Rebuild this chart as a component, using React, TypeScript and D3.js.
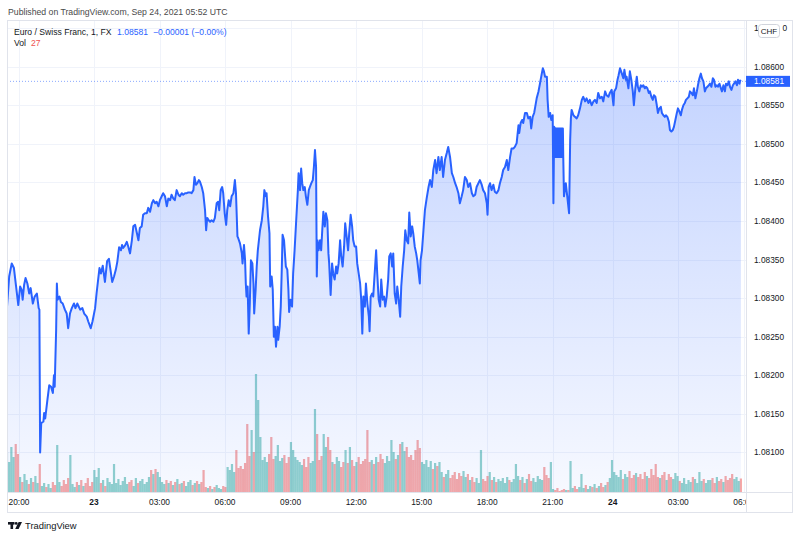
import React from 'react';
import * as d3 from 'd3';

const W = 800;
const H = 538;

// time axis: bar index (1-minute bars) and labels
const timeTickBars = [33, 239, 419, 599, 779, 959, 1139, 1319, 1499, 1664, 1844, 2024];
const timeTickLabels = ['20:00', '23', '03:00', '06:00', '09:00', '12:00', '15:00', '18:00', '21:00', '24', '03:00', '06:00'];
const boldTickLabels = ['23', '24'];

const priceTicks = [1.081, 1.0815, 1.082, 1.0825, 1.083, 1.0835, 1.084, 1.0845, 1.085, 1.0855, 1.086];
// top tick, mostly hidden behind the currency badge: only its first and last digits show
const hiddenTopTick = 1.0865;

const lastPrice = 1.08581;
const lastChange = '−0.00001 (−0.00%)';
const lastVolume = 27;

// [bar index, close]
const sessionEvening: [number, number][] = [
  [0, 1.08289], [6, 1.08328], [13, 1.08345], [19, 1.08339], [25, 1.08315], [31, 1.08291], [36, 1.08315], [40, 1.08311],
  [43, 1.08298], [47, 1.08317], [51, 1.08326], [56, 1.08319], [61, 1.08306], [65, 1.08313], [71, 1.08293], [76, 1.08302],
  [82, 1.08306], [87, 1.08287], [89, 1.08285], [91, 1.081], [94, 1.08138], [100, 1.0814], [102, 1.08151], [105, 1.08144],
  [111, 1.08168], [116, 1.08187], [121, 1.08185], [126, 1.08177], [129, 1.082], [131, 1.08185], [135, 1.08259], [137, 1.08319],
  [139, 1.08298], [144, 1.08302], [148, 1.08295], [153, 1.08293], [159, 1.08285], [164, 1.0828], [168, 1.08261], [173, 1.0828],
  [178, 1.08287], [184, 1.08293], [188, 1.08287], [193, 1.08293], [201, 1.08285], [207, 1.08287], [212, 1.0828], [219, 1.08276],
  [223, 1.0827], [230, 1.08261], [235, 1.0827], [242, 1.08287], [246, 1.08306], [254, 1.08339], [258, 1.08332], [263, 1.08342],
  [269, 1.08321], [275, 1.08348], [280, 1.08351], [289, 1.08321], [294, 1.08328], [299, 1.08337], [303, 1.08347], [308, 1.08366],
  [313, 1.08362], [316, 1.08369], [319, 1.08365], [324, 1.08368], [329, 1.08373], [333, 1.08367], [338, 1.08358], [343, 1.08375],
  [347, 1.08393], [352, 1.08395], [356, 1.08386], [361, 1.08375], [365, 1.08391], [370, 1.08393], [374, 1.08408], [379, 1.0841],
  [384, 1.0841], [388, 1.08417], [393, 1.08412], [398, 1.08423], [402, 1.08427], [407, 1.08423], [411, 1.08425], [416, 1.08419],
  [420, 1.08427], [425, 1.08432], [429, 1.08436], [434, 1.08432], [439, 1.08419], [443, 1.08429], [448, 1.08427], [452, 1.08434],
  [457, 1.08429], [461, 1.08427], [466, 1.0844], [471, 1.08434], [475, 1.08432], [480, 1.08436], [484, 1.08434], [489, 1.08436],
  [494, 1.08436], [498, 1.08437], [503, 1.08437], [507, 1.08436], [512, 1.0844], [515, 1.08457], [519, 1.08447], [523, 1.08449],
  [527, 1.08453], [530, 1.08451], [535, 1.08444], [539, 1.08436], [544, 1.08414], [547, 1.08388], [550, 1.08404], [554, 1.08401],
  [558, 1.08399], [562, 1.08401], [567, 1.08399], [571, 1.08404], [576, 1.08423], [580, 1.08425], [583, 1.08414], [587, 1.0844],
  [591, 1.08444], [594, 1.08436],
];

const sessionMorning: [number, number][] = [
  [598, 1.0841], [602, 1.08395], [605, 1.08414], [609, 1.08427], [613, 1.08419], [617, 1.08432], [622, 1.08436], [626, 1.08453],
  [629, 1.08436], [633, 1.0838], [635, 1.08378], [640, 1.08371], [645, 1.08358], [647, 1.08345], [651, 1.08369], [654, 1.08349],
  [656, 1.08319], [658, 1.08302], [661, 1.08315], [664, 1.08254], [667, 1.08293], [670, 1.08349], [674, 1.08345], [677, 1.08319],
  [679, 1.0828], [683, 1.08311], [686, 1.08341], [689, 1.08362], [692, 1.08375], [695, 1.08388], [700, 1.08401], [704, 1.08419],
  [707, 1.0844], [711, 1.08432], [713, 1.08436], [717, 1.08406], [721, 1.08384], [723, 1.08315], [727, 1.08328], [730, 1.08311],
  [733, 1.0825], [736, 1.08263], [739, 1.08237], [743, 1.08263], [745, 1.08246], [749, 1.08263], [752, 1.08289], [755, 1.08341],
  [757, 1.08382], [761, 1.08375], [764, 1.08354], [766, 1.08341], [770, 1.08337], [773, 1.08311], [775, 1.08282], [779, 1.08298],
  [783, 1.08289], [786, 1.08332], [790, 1.08362], [794, 1.08397], [799, 1.0844], [801, 1.08462], [805, 1.0844], [808, 1.08468],
  [811, 1.08449], [814, 1.0844], [818, 1.08444], [821, 1.08432], [825, 1.08421], [829, 1.0844], [832, 1.08444], [836, 1.08449],
  [840, 1.08453], [843, 1.0847], [846, 1.08492], [849, 1.0847], [851, 1.08328], [853, 1.08375], [856, 1.08362], [860, 1.08375],
  [863, 1.08362], [866, 1.08388], [869, 1.08412], [873, 1.08393], [876, 1.0841], [880, 1.08401], [883, 1.08358], [885, 1.08345],
  [889, 1.08304], [893, 1.08345], [896, 1.08332], [900, 1.08324], [904, 1.08341], [907, 1.08332], [911, 1.08345], [915, 1.08375],
  [918, 1.08354], [922, 1.08341], [926, 1.08367], [929, 1.08397], [933, 1.0838], [937, 1.08362], [940, 1.08384], [944, 1.08408],
  [948, 1.08393], [951, 1.08375], [955, 1.08367], [959, 1.08367], [962, 1.08345], [966, 1.08332], [970, 1.08319], [973, 1.08298],
  [976, 1.08254], [979, 1.08302], [983, 1.08289], [986, 1.08319], [990, 1.08293], [994, 1.08276], [996, 1.08257], [999, 1.08302],
  [1003, 1.08306], [1006, 1.08302], [1010, 1.08332], [1014, 1.08362], [1017, 1.08332], [1021, 1.08298], [1025, 1.08289], [1028, 1.08324],
  [1032, 1.08298], [1036, 1.08302], [1039, 1.08289], [1043, 1.08302], [1047, 1.08324], [1050, 1.08354], [1054, 1.08358], [1058, 1.08341],
  [1061, 1.08358], [1065, 1.08306], [1069, 1.08293], [1072, 1.08315], [1076, 1.08298], [1080, 1.08276], [1083, 1.08315], [1087, 1.08341],
  [1091, 1.08362], [1094, 1.08388], [1098, 1.08375], [1102, 1.08371], [1105, 1.08411], [1109, 1.0838], [1113, 1.08393], [1116, 1.08384],
  [1120, 1.08367], [1124, 1.08358], [1127, 1.08349], [1131, 1.08332], [1134, 1.08319], [1136, 1.08349],
];

const sessionAfternoon: [number, number][] = [
  [1140, 1.08362], [1144, 1.08388], [1148, 1.08414], [1153, 1.0843], [1158, 1.08444], [1162, 1.08453], [1167, 1.08444], [1171, 1.08466],
  [1176, 1.08479], [1180, 1.08462], [1185, 1.08483], [1189, 1.08466], [1194, 1.08483], [1198, 1.08457], [1203, 1.08479], [1208, 1.08488],
  [1212, 1.08496], [1217, 1.08483], [1222, 1.08462], [1226, 1.08457], [1231, 1.08449], [1235, 1.08444], [1240, 1.08436], [1244, 1.08423],
  [1249, 1.08432], [1253, 1.0844], [1258, 1.08457], [1263, 1.08453], [1267, 1.08444], [1272, 1.08449], [1277, 1.08436], [1281, 1.08432],
  [1286, 1.08434], [1290, 1.08444], [1295, 1.08449], [1299, 1.08453], [1304, 1.08447], [1308, 1.0844], [1313, 1.08436], [1318, 1.08423],
  [1320, 1.08408], [1323, 1.08444], [1327, 1.08449], [1331, 1.0844], [1336, 1.08447], [1340, 1.08438], [1345, 1.08436], [1350, 1.0844],
  [1354, 1.08449], [1359, 1.08457], [1363, 1.08466], [1368, 1.0847], [1373, 1.08479], [1377, 1.08466], [1382, 1.08483], [1386, 1.08494],
  [1391, 1.08494], [1395, 1.08496], [1400, 1.08501], [1405, 1.08524], [1407, 1.08514], [1411, 1.08527], [1415, 1.08531], [1418, 1.08527],
  [1423, 1.0854], [1428, 1.0854], [1432, 1.08533], [1437, 1.08535], [1440, 1.0852], [1444, 1.08535], [1448, 1.0854], [1451, 1.08548],
  [1455, 1.08559], [1460, 1.08568], [1464, 1.08578], [1469, 1.08591], [1472, 1.08598], [1475, 1.08594], [1478, 1.08587], [1483, 1.08587],
  [1485, 1.08557], [1488, 1.08535], [1492, 1.0854], [1495, 1.08531],
];

const sessionRollover: [number, number][] = [
  [1499, 1.08537], [1501, 1.08423], [1503, 1.08522],
  [1505, 1.0852], [1506, 1.08483], [1507, 1.0852], [1508, 1.08483], [1509, 1.0852], [1510, 1.08483], [1511, 1.0852], [1512, 1.08483],
  [1513, 1.0852], [1514, 1.08483], [1515, 1.0852], [1516, 1.08483], [1517, 1.0852], [1518, 1.08483], [1519, 1.0852], [1520, 1.08483],
  [1521, 1.0852], [1522, 1.08483], [1523, 1.0852], [1524, 1.08483], [1525, 1.0852], [1526, 1.08483], [1527, 1.0852], [1528, 1.08483],
  [1530, 1.08432], [1535, 1.08449], [1539, 1.08432], [1544, 1.0841], [1547, 1.08505], [1549, 1.08533], [1551, 1.08544], [1556, 1.08537],
  [1560, 1.08535], [1565, 1.08533], [1569, 1.08537], [1574, 1.08546], [1579, 1.08557], [1583, 1.08561], [1588, 1.08555], [1592, 1.08559],
  [1597, 1.08553], [1601, 1.08557], [1606, 1.0855], [1611, 1.08555], [1615, 1.08557], [1620, 1.08553], [1624, 1.08566], [1629, 1.08559],
  [1634, 1.08561], [1638, 1.08555], [1643, 1.08568], [1647, 1.08563], [1652, 1.08561], [1656, 1.08566], [1661, 1.0857],
];

const sessionAsia: [number, number][] = [
  [1666, 1.0855], [1668, 1.08568], [1673, 1.08572], [1677, 1.08583], [1680, 1.08589], [1684, 1.08598], [1689, 1.08591], [1693, 1.08585],
  [1696, 1.08596], [1700, 1.08583], [1702, 1.08587], [1707, 1.08572], [1711, 1.08594], [1715, 1.08583], [1719, 1.08568], [1722, 1.0855],
  [1726, 1.08572], [1730, 1.08587], [1733, 1.08574], [1737, 1.08568], [1741, 1.08576], [1744, 1.08574], [1748, 1.08576], [1752, 1.08572],
  [1755, 1.08574], [1759, 1.08572], [1763, 1.08566], [1766, 1.08568], [1770, 1.08561], [1774, 1.08557], [1777, 1.08563], [1781, 1.08561],
  [1785, 1.0855], [1788, 1.0854], [1792, 1.08546], [1796, 1.08548], [1799, 1.0854], [1803, 1.08537], [1807, 1.08535], [1810, 1.08537],
  [1814, 1.08535], [1818, 1.08529], [1821, 1.08518], [1825, 1.08516], [1829, 1.08518], [1832, 1.08522], [1836, 1.08531], [1840, 1.0854],
  [1843, 1.08546], [1847, 1.08542], [1851, 1.08537], [1854, 1.08544], [1858, 1.0855], [1862, 1.08553], [1865, 1.08557], [1869, 1.08559],
  [1873, 1.08561], [1876, 1.08568], [1880, 1.08566], [1884, 1.08563], [1887, 1.08572], [1891, 1.08559], [1895, 1.08568], [1898, 1.08576],
  [1902, 1.08585], [1906, 1.08591], [1909, 1.08585], [1913, 1.08581], [1917, 1.08568], [1920, 1.08572], [1924, 1.08574], [1928, 1.08576],
  [1931, 1.08578], [1935, 1.08574], [1939, 1.08585], [1942, 1.08583], [1946, 1.08574], [1950, 1.08576], [1953, 1.08574], [1957, 1.08578],
  [1961, 1.08572], [1964, 1.08568], [1968, 1.08576], [1972, 1.08568], [1975, 1.08578], [1979, 1.08576], [1983, 1.08581], [1986, 1.08574],
  [1990, 1.0857], [1994, 1.08576], [1997, 1.08578], [2001, 1.08581], [2005, 1.08576], [2008, 1.08583], [2012, 1.08578], [2014, 1.08582],
  [2016, 1.08581],
];

// tick volume, one value every 6 bars
const volumeStep = 6;
const volumes = [
  80, 60, 90, 70, 96, 76, 30, 20, 36, 24, 16, 28, 20, 32, 18, 56, 12, 18, 10, 16, 8, 20, 14, 94, 20, 12, 24, 16, 28, 74,
  16, 10, 20, 14, 24, 12, 18, 28, 12, 20, 44, 30, 48, 18, 24, 12, 28, 20, 16, 56, 18, 26, 14, 22, 30, 16, 20, 24, 12, 28,
  18, 22, 26, 16, 20, 30, 44, 36, 46, 40, 30, 20, 16, 24, 18, 22, 14, 20, 26, 16, 18, 22, 12, 20, 24, 14, 18, 22, 16, 20,
  44, 10, 8, 12, 6, 10, 14, 8, 6, 12, 10, 50, 44, 56, 40, 84, 48, 52, 46, 58, 136, 72, 124, 80, 236, 184, 110, 64, 70, 60,
  76, 110, 66, 72, 94, 62, 68, 74, 58, 70, 100, 84, 70, 64, 60, 54, 66, 50, 70, 58, 62, 166, 116, 64, 72, 116, 90, 110, 84, 60,
  56, 70, 62, 50, 60, 84, 58, 90, 64, 52, 60, 70, 56, 62, 66, 124, 60, 64, 56, 70, 60, 76, 66, 58, 72, 62, 104, 80, 66, 74,
  96, 100, 82, 90, 70, 74, 64, 84, 104, 88, 60, 56, 64, 50, 62, 46, 58, 52, 60, 40, 30, 36, 44, 28, 34, 40, 26, 38, 32, 42,
  30, 36, 24, 30, 20, 28, 18, 84, 26, 22, 32, 40, 24, 30, 20, 26, 22, 28, 18, 30, 24, 20, 26, 56, 32, 24, 30, 18, 26, 36,
  22, 28, 20, 32, 26, 24, 50, 34, 28, 60, 6, 4, 8, 2, 4, 6, 4, 4, 62, 8, 12, 6, 10, 36, 8, 14, 6, 12, 10, 16, 8, 12,
  18, 10, 14, 20, 28, 64, 40, 34, 30, 44, 26, 36, 30, 42, 28, 34, 38, 30, 36, 26, 40, 32, 28, 46, 34, 56, 30, 28, 34, 40,
  24, 36, 30, 26, 38, 32, 22, 18, 28, 16, 24, 20, 30, 26, 18, 40, 22, 26, 18, 24, 24, 28, 18, 30, 22, 26, 20, 32, 24, 28,
  36, 26, 30, 22, 27,
];

const FONT = "'Liberation Sans', Arial, sans-serif";
const TEXT = '#131722';
const BLUE = '#2962ff';

export default function App() {
  const left = 7;
  const right = 746;
  const top = 20;
  const bottom = 492;
  const frameRight = 792;
  const frameBottom = 512;

  const series = [...sessionEvening, ...sessionMorning, ...sessionAfternoon, ...sessionRollover, ...sessionAsia];

  const x = d3.scaleLinear().domain([0, 2030]).range([left, right]);
  const y = d3.scaleLinear().domain([1.081, 1.086]).range([452.4, 66.7]);
  const v = d3.scaleLinear().domain([0, 240]).range([bottom, 372]);

  const line = d3.line<[number, number]>().x((d) => x(d[0])).y((d) => y(d[1]));
  const area = d3.area<[number, number]>().x((d) => x(d[0])).y0(bottom).y1((d) => y(d[1]));

  const bis = d3.bisector((d: [number, number]) => d[0]).right;
  const volBars = volumes.map((vol, i) => {
    const bar = i * volumeStep;
    let k = bis(series, bar) - 1;
    k = Math.max(1, Math.min(series.length - 1, k));
    const up = series[k][1] >= series[k - 1][1];
    return { bar, vol, up };
  });

  const maxPrice = d3.max(series, (d) => d[1]) as number;
  const topLabel = hiddenTopTick.toFixed(5);

  return (
    <svg width={W} height={H} style={{ position: 'absolute', left: 0, top: 0, background: '#fff' }} fontFamily={FONT}>
      <defs>
        <linearGradient id="areaFill" gradientUnits="userSpaceOnUse" x1="0" x2="0" y1={y(maxPrice)} y2={bottom}>
          <stop offset="0" stopColor="rgb(41,98,255)" stopOpacity={0.28} />
          <stop offset="1" stopColor="rgb(41,98,255)" stopOpacity={0.04} />
        </linearGradient>
        <clipPath id="plotClip">
          <rect x={left} y={top} width={right - left} height={bottom - top} />
        </clipPath>
        <clipPath id="timeClip">
          <rect x={left} y={bottom} width={right - left} height={frameBottom - bottom} />
        </clipPath>
      </defs>

      <rect x={0} y={0} width={W} height={H} fill="#fff" />

      {/* header */}
      <text x={8} y={15} fontSize={8.7} fill="#4a4a4a">Published on TradingView.com, Sep 24, 2021 05:52 UTC</text>

      {/* grid */}
      <g stroke="#f0f3fa" strokeWidth={1}>
        {timeTickBars.map((b, i) => (
          <line key={'vg' + i} x1={Math.round(x(b)) + 0.5} x2={Math.round(x(b)) + 0.5} y1={top} y2={bottom} />
        ))}
        {[...priceTicks, hiddenTopTick].map((p, i) => (
          <line key={'hg' + i} x1={left} x2={right} y1={Math.round(y(p)) + 0.5} y2={Math.round(y(p)) + 0.5} />
        ))}
      </g>

      <g clipPath="url(#plotClip)">
        {/* volume */}
        {volBars.map((d, i) => (
          <rect
            key={'v' + i}
            x={x(d.bar) - 1.1}
            y={v(d.vol)}
            width={2.2}
            height={bottom - v(d.vol)}
            fill={d.up ? 'rgba(38,166,154,0.5)' : 'rgba(239,83,80,0.5)'}
          />
        ))}
        {/* area */}
        <path d={area(series) || ''} fill="url(#areaFill)" />
        <path d={line(series) || ''} fill="none" stroke={BLUE} strokeWidth={2} strokeLinejoin="round" />
        {/* last price line */}
        <line x1={left} x2={right} y1={y(lastPrice)} y2={y(lastPrice)} stroke={BLUE} strokeOpacity={0.55} strokeDasharray="1 2" />
      </g>

      {/* frame */}
      <rect x={left + 0.5} y={top + 0.5} width={frameRight - left} height={frameBottom - top} fill="none" stroke="#e0e3eb" />
      <line x1={right + 0.5} x2={right + 0.5} y1={top} y2={frameBottom} stroke="#e0e3eb" />
      <line x1={left} x2={frameRight} y1={bottom + 0.5} y2={bottom + 0.5} stroke="#e0e3eb" />

      {/* legend */}
      <text x={14} y={34.5} fontSize={8.6} fill={TEXT}>Euro / Swiss Franc, 1, FX</text>
      <text x={117} y={34.5} fontSize={8.6} fill={BLUE}>{lastPrice.toFixed(5)}</text>
      <text x={153} y={34.5} fontSize={8.6} fill={BLUE}>{lastChange}</text>
      <text x={14} y={46} fontSize={8.6} fill={TEXT}>Vol</text>
      <text x={31} y={46} fontSize={8.6} fill="#ef5350">{lastVolume}</text>

      {/* price axis */}
      <g fontSize={8.3} fill={TEXT}>
        {priceTicks.map((p, i) => (
          <text key={'pt' + i} x={754} y={y(p)} dominantBaseline="central">{p.toFixed(5)}</text>
        ))}
        {/* the top label peeks out on both sides of the badge */}
        <text x={754} y={y(hiddenTopTick)} dominantBaseline="central">{topLabel.slice(0, 1)}</text>
        <text x={782.5} y={y(hiddenTopTick)} dominantBaseline="central">{topLabel.slice(-1)}</text>
      </g>
      <rect x={758.5} y={24.5} width={21} height={13} rx={3} fill="#fff" stroke="#d1d4dc" />
      <text x={769} y={31.3} fontSize={8} fill={TEXT} textAnchor="middle" dominantBaseline="central">CHF</text>
      <rect x={746} y={y(lastPrice) - 5.5} width={44} height={11} fill={BLUE} />
      <text x={754} y={y(lastPrice)} fontSize={8.3} fill="#fff" dominantBaseline="central">{lastPrice.toFixed(5)}</text>

      {/* time axis */}
      <g fontSize={8.4} fill={TEXT} clipPath="url(#timeClip)">
        {timeTickBars.map((b, i) => (
          <text
            key={'tt' + i}
            x={x(b)}
            y={502}
            textAnchor="middle"
            dominantBaseline="central"
            fontWeight={boldTickLabels.includes(timeTickLabels[i]) ? 'bold' : 'normal'}
          >
            {timeTickLabels[i]}
          </text>
        ))}
      </g>

      {/* footer logo */}
      <g fill={TEXT}>
        <rect x={8} y={522} width={6.5} height={2.6} />
        <rect x={10.5} y={522} width={2.6} height={7} />
        <circle cx={16.2} cy={523.4} r={1.4} />
        <polygon points="18.6,522 22,522 18.6,529 15.2,529" />
      </g>
      <text x={25} y={529} fontSize={9.4} fill={TEXT}>TradingView</text>
    </svg>
  );
}
